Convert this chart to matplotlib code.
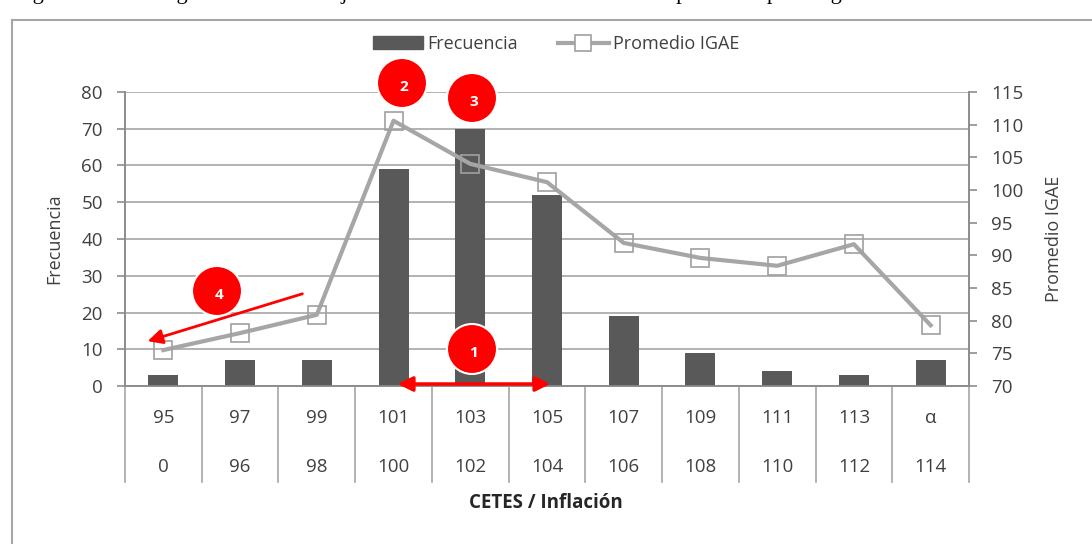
import matplotlib
matplotlib.use("Agg")
import matplotlib.pyplot as plt
from matplotlib.patches import Circle, Rectangle
from matplotlib.lines import Line2D
import matplotlib.transforms as mtrans

plt.rcParams['font.family'] = ['Open Sans', 'DejaVu Sans']

upper_labels = ["95", "97", "99", "101", "103", "105", "107", "109", "111", "113", "α"]
lower_labels = ["0", "96", "98", "100", "102", "104", "106", "108", "110", "112", "114"]
frecuencia = [3, 7, 7, 59, 70, 52, 19, 9, 4, 3, 7]
promedio_igae = [75.5, 78.1, 80.9, 110.6, 104.0, 101.2, 91.9, 89.6, 88.4, 91.7, 79.3]

W, H = 1092, 544
fig = plt.figure(figsize=(W / 100, H / 100), dpi=100)

def fx(px):
    return px / W

def fy(py):
    return 1 - py / H

ax = fig.add_axes([fx(125), fy(386), fx(969) - fx(125), fy(92) - fy(386)])
ax2 = ax.twinx()

n = len(frecuencia)
xs = list(range(n))
bar_color = "#595959"
line_color = "#A6A6A6"
axis_color = "#8C8C8C"
text_color = "#404040"

ax.bar(xs, frecuencia, width=0.39, color=bar_color, zorder=3)
ax.set_xlim(-0.5, n - 0.5)
ax.set_ylim(0, 80)
ax.set_yticks(range(0, 81, 10))
ax.yaxis.grid(True, color="#A6A6A6", linewidth=1.2, zorder=0)
ax.set_axisbelow(True)
ax.set_xticks([])

ax2.plot(xs, promedio_igae, color=line_color, linewidth=3, marker="s", markersize=13,
         markerfacecolor="none", markeredgecolor="#A0A0A0", markeredgewidth=1.2, zorder=4)
ax2.set_ylim(70, 115)
ax2.set_yticks(range(70, 116, 5))

for a in (ax, ax2):
    for s in a.spines.values():
        s.set_color(axis_color)
        s.set_linewidth(1.2)
    a.spines['top'].set_visible(False)
    a.tick_params(axis='y', labelcolor=text_color, labelsize=13.5, length=6, width=1.2,
                  color=axis_color, pad=10)

ax.set_ylabel("Frecuencia", fontsize=13, color=text_color)
ax.yaxis.set_label_coords(-0.0735, 0.5)
ax2.set_ylabel("Promedio IGAE", fontsize=13, color=text_color)
ax2.yaxis.set_label_coords(1.090, 0.5)
ax.set_zorder(ax2.get_zorder() - 1)
ax2.patch.set_visible(False)
ax.patch.set_visible(True)

# category table below the axis
trans = mtrans.blended_transform_factory(ax.transData, fig.transFigure)
for k in range(n + 1):
    xb = k - 0.5
    ax.add_line(Line2D([xb, xb], [fy(386), fy(482)], transform=trans, color="#A6A6A6",
                       linewidth=1.2, clip_on=False))
for i in xs:
    fig.text(i, fy(418), upper_labels[i], transform=trans, ha="center", va="center",
             fontsize=13.5, color=text_color)
    fig.text(i, fy(467), lower_labels[i], transform=trans, ha="center", va="center",
             fontsize=13.5, color=text_color)

fig.text(fx(546), fy(503), "CETES / Inflación", ha="center", va="center", fontsize=13.5,
         fontweight="bold", color="#262626")

# legend
leg_handles = [Rectangle((0, 0), 1, 1, color=bar_color),
               Line2D([], [], color=line_color, linewidth=3, marker="s", markersize=11,
                      markerfacecolor="white", markeredgecolor="#A0A0A0", markeredgewidth=1.2)]
fig.legend(leg_handles, ["Frecuencia", "Promedio IGAE"], loc="center",
           bbox_to_anchor=(fx(556), fy(44)), ncol=2, frameon=False, fontsize=13,
           handlelength=2.8, columnspacing=2.2, handletextpad=0.25,
           labelcolor=text_color)

# overlay in pixel coordinates for annotations and frame
ov = fig.add_axes([0, 0, 1, 1], zorder=10)
ov.set_xlim(0, W)
ov.set_ylim(H, 0)
ov.axis("off")
ov.patch.set_visible(False)

ov.plot([12, 12], [20, H], color="#A6A6A6", linewidth=1.5)
ov.plot([12, W], [20, 20], color="#A6A6A6", linewidth=1.5)

fig.text(fx(14), fy(-1), "Figura 4.12: Histograma basado en ajuste de CETES / Inflación vs. IGAE promedio por rango",
         fontsize=16, family=["Liberation Serif"], va="baseline", ha="left", color="black")

ov.annotate("", xy=(145, 342), xytext=(305, 293),
            arrowprops=dict(arrowstyle="-|>", color="red", lw=2, mutation_scale=22))
ov.annotate("", xy=(395, 384), xytext=(553, 384),
            arrowprops=dict(arrowstyle="<|-|>", color="red", lw=2.5, mutation_scale=22))

circles = [(472, 349, "1"), (402, 83, "2"), (472, 98, "3"), (217, 291, "4")]
for cx, cy, lab in circles:
    ov.add_patch(Circle((cx, cy), 25, facecolor="#FF0000", edgecolor="white", linewidth=1.5))
    ov.text(cx + 2, cy + 4, lab, color="white", fontsize=11, fontweight="bold",
            ha="center", va="center")

fig.savefig("out.png", dpi=100)
